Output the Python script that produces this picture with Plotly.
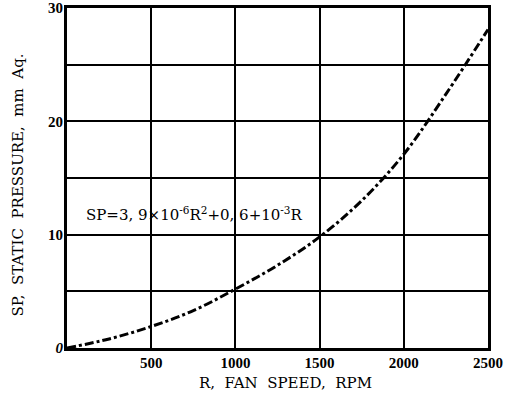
import plotly.graph_objects as go

# Data
fan_speed_rpm = [0, 250, 500, 750, 1000, 1250, 1500, 1750, 2000, 2250, 2500]
static_pressure = [0, 0.8, 1.9, 3.3, 5.2, 7.3, 9.8, 13.0, 17.1, 22.4, 28.1]

x_tickvals = [500, 1000, 1500, 2000, 2500]
x_ticktext = ["500", "1000", "1500", "2000", "2500"]
y_tickvals = [0, 10, 20, 30]
y_ticktext = ["<i>0</i>", "10", "20", "30"]
y_minor_grid = [5, 15, 25]

x_title = "R,  FAN  SPEED,  RPM"
y_title = "SP,  STATIC  PRESSURE,  mm  Aq."
formula = "SP=3, 9×10<sup>-6</sup>R<sup>2</sup>+0, 6+10<sup>-3</sup>R"

FONT = "Liberation Serif, DejaVu Serif, serif"
WIDE = "DejaVu Serif, serif"

fig = go.Figure()
fig.add_trace(go.Scatter(
    x=fan_speed_rpm, y=static_pressure, mode="lines",
    line=dict(color="black", width=3, dash="dashdot", shape="spline"),
    showlegend=False, hoverinfo="skip",
))

fig.add_annotation(
    x=0.04, y=0.395, xref="paper", yref="paper", xanchor="left", yanchor="middle",
    text=formula, showarrow=False, font=dict(family=WIDE, size=15, color="black"),
)
fig.add_annotation(
    x=0.52, y=-0.072, xref="paper", yref="paper", xanchor="center", yanchor="top",
    text=x_title, showarrow=False, font=dict(family=WIDE, size=15, color="black"),
)
fig.add_annotation(
    x=-0.117, y=0.48, xref="paper", yref="paper", xanchor="center", yanchor="middle",
    text=y_title, textangle=-90, showarrow=False,
    font=dict(family=WIDE, size=15, color="black"),
)

fig.update_layout(
    width=516, height=400,
    margin=dict(l=67, r=28, t=8, b=52),
    paper_bgcolor="white", plot_bgcolor="white",
    font=dict(family=FONT, color="black"),
    xaxis=dict(
        range=[0, 2500], tickvals=x_tickvals, ticktext=x_ticktext,
        showgrid=True, gridcolor="black", gridwidth=2,
        showline=True, linecolor="black", linewidth=3, mirror=True,
        ticks="", zeroline=False, automargin=False, ticklabelstandoff=-1,
        tickfont=dict(family=FONT, size=15, color="black", weight="bold"),
    ),
    yaxis=dict(
        range=[0, 30], tickvals=y_tickvals, ticktext=y_ticktext,
        showgrid=True, gridcolor="black", gridwidth=2,
        minor=dict(tickvals=y_minor_grid, showgrid=True, gridcolor="black", gridwidth=2, ticks=""),
        showline=True, linecolor="black", linewidth=3, mirror=True,
        ticks="", zeroline=False, automargin=False, ticklabelstandoff=-2,
        tickfont=dict(family=FONT, size=15, color="black", weight="bold"),
    ),
)

fig.write_html("out.html", config={"displayModeBar": False},
               post_script="document.body.style.margin='0';")
